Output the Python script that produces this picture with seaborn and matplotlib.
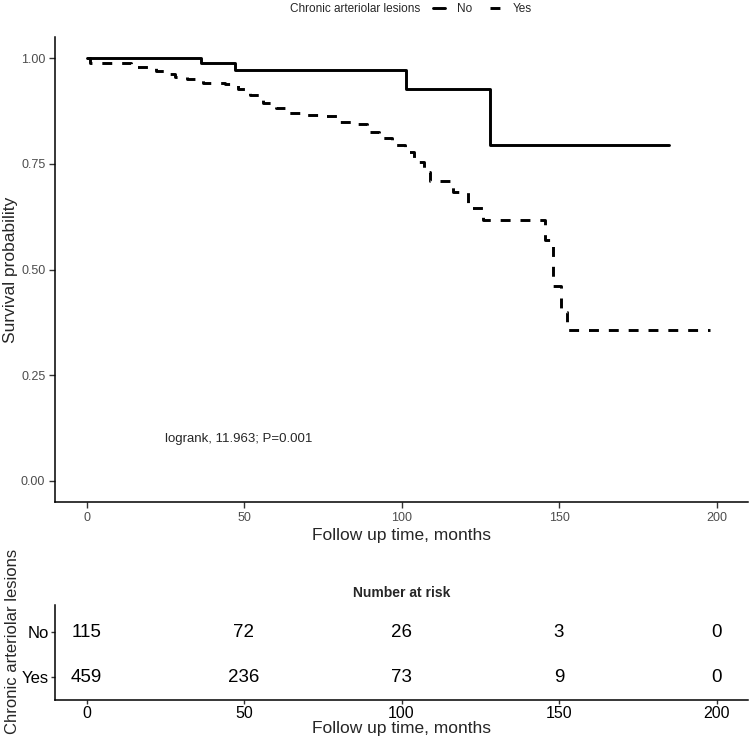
import matplotlib
matplotlib.use("Agg")
import matplotlib.pyplot as plt
from matplotlib.lines import Line2D
from matplotlib import font_manager
import seaborn as sns
import pandas as pd

# Kaplan-Meier steps (months, survival)
no_times = [0, 36.5, 47, 101.5, 128]
no_surv = [1.0, 0.989, 0.973, 0.926, 0.794]
no_end = 185

yes_times = [0, 1, 14, 22, 25, 28, 32, 37, 44, 48,
             52, 56, 60, 64, 70, 76, 80, 86, 89, 93,
             97, 101, 104, 107, 109, 116.5, 121, 126, 145.5, 148,
             150.5, 152.5]
yes_surv = [1.0, 0.989, 0.978, 0.970, 0.962, 0.956, 0.950, 0.942, 0.938, 0.927,
            0.912, 0.895, 0.882, 0.870, 0.866, 0.862, 0.850, 0.845, 0.825, 0.810,
            0.794, 0.778, 0.755, 0.731, 0.710, 0.684, 0.646, 0.616, 0.57, 0.46,
            0.40, 0.357]
yes_end = 198

groups = ["No", "Yes"]
risk_times = [0, 50, 100, 150, 200]
risk_no = [115, 72, 26, 3, 0]
risk_yes = [459, 236, 73, 9, 0]

x_ticks = [0, 50, 100, 150, 200]
y_ticks = [0.00, 0.25, 0.50, 0.75, 1.00]

# long format for seaborn
rows = []
for t, s in zip(no_times + [no_end], no_surv + [no_surv[-1]]):
    rows.append(("No", t, s))
for t, s in zip(yes_times + [yes_end], yes_surv + [yes_surv[-1]]):
    rows.append(("Yes", t, s))
df = pd.DataFrame(rows, columns=["group", "time", "surv"])

sns.set_theme(style="ticks")
names = {f.name for f in font_manager.fontManager.ttflist}
base = "Liberation Sans" if "Liberation Sans" in names else "DejaVu Sans"
narrow = "Liberation Sans Narrow" if "Liberation Sans Narrow" in names else base
plt.rcParams["font.family"] = [base, "DejaVu Sans"]

W, H = 750, 736
fig = plt.figure(figsize=(7.5, 7.36), dpi=100)
ax = fig.add_axes([55 / W, 1 - 502 / H, 693 / W, 465 / H])
tab = fig.add_axes([55 / W, 1 - 700 / H, 693 / W, 95 / H])

dash = (3.4, 3.4)
sns.lineplot(data=df, x="time", y="surv", style="group", style_order=groups,
             dashes={"No": "", "Yes": dash}, color="black", estimator=None,
             sort=False, drawstyle="steps-post", lw=2.1, legend=False, ax=ax)

ax.set_xlim(-10, 210)
ax.set_ylim(-0.05, 1.05)
ax.set_xticks(x_ticks)
ax.set_yticks(y_ticks)
ax.set_yticklabels([f"{v:.2f}" for v in y_ticks])
ax.set_xlabel("Follow up time, months", fontsize=12.5, labelpad=3)
ax.set_ylabel("Survival probability", fontsize=12.5)
ax.yaxis.set_label_coords(-0.053, 0.5)
ax.text(25, 0.1, "logrank, 11.963; P=0.001", fontsize=9.5, ha="left", va="center")

for a in (ax, tab):
    sns.despine(ax=a)
    for sp in ("left", "bottom"):
        a.spines[sp].set_linewidth(1.1)
        a.spines[sp].set_color("black")
    a.tick_params(length=4, width=1, color="#333333", labelcolor="#4d4d4d",
                  labelsize=9, pad=3)

# risk table
tab.set_xlim(-10, 210)
tab.set_ylim(2.5, 0.4)
tab.set_xticks(x_ticks)
tab.set_yticks([1, 2])
tab.tick_params(length=3, pad=1.5)
tab.set_yticklabels(groups, family=narrow, fontsize=12, color="black")
for lab in tab.get_xticklabels():
    lab.set_family(narrow)
    lab.set_fontsize(11.5)
    lab.set_color("black")
for row, counts in enumerate([risk_no, risk_yes], start=1):
    for t, n in zip(risk_times, counts):
        tab.text(t, row, str(n), ha="center", va="center", fontsize=13.5,
                 family=narrow, color="black")
tab.set_title("Number at risk", fontsize=10, fontweight="bold", family=narrow, pad=6)
tab.set_xlabel("Follow up time, months", fontsize=12.5, family=narrow, labelpad=0)
tab.set_ylabel("Chronic arteriolar lesions", fontsize=12)
tab.yaxis.set_label_coords(-0.05, 0.62)

# legend across the top
fig.text(420 / W, 1 - 9 / H, "Chronic arteriolar lesions", fontsize=8.5,
         family=narrow, ha="right", va="center")
handles = [Line2D([], [], color="black", lw=2.1),
           Line2D([], [], color="black", lw=2.1, dashes=dash)]
fig.legend(handles, groups, loc="center left", bbox_to_anchor=(433 / W, 1 - 9 / H),
           ncol=2, frameon=False, handlelength=1.0, handletextpad=1.0,
           columnspacing=1.5, borderaxespad=0, borderpad=0,
           prop={"family": narrow, "size": 8.5})

fig.savefig("out.png", dpi=100, facecolor="white")
